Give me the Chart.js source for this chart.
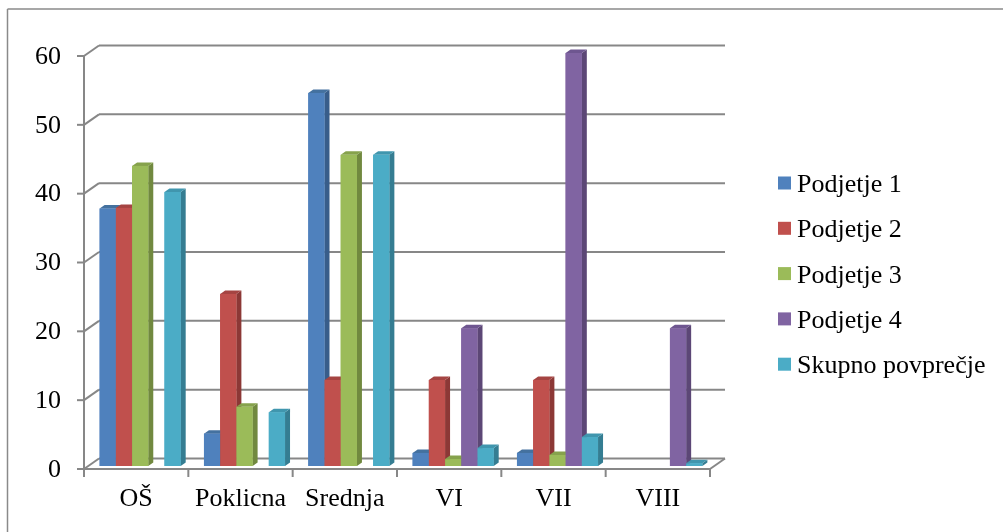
<!DOCTYPE html>
<html>
<head>
<meta charset="utf-8">
<script src="https://cdn.jsdelivr.net/npm/chart.js@4/dist/chart.umd.min.js"></script>
<style>
  html, body { margin: 0; padding: 0; background: #fff; }
  #wrap { width: 1003px; height: 532px; position: relative; }
</style>
</head>
<body>
<div id="wrap"><canvas id="chart" width="1003" height="532"></canvas></div>
<script>
// Delež po stopnji izobrazbe
const categories = ['OŠ', 'Poklicna', 'Srednja', 'VI', 'VII', 'VIII'];
const seriesNames = ['Podjetje 1', 'Podjetje 2', 'Podjetje 3', 'Podjetje 4', 'Skupno povprečje'];
const podjetje1 = [37.4, 4.7, 54.2, 1.9, 1.9, 0];
const podjetje2 = [37.5, 25.0, 12.5, 12.5, 12.5, 0];
const podjetje3 = [43.6, 8.6, 45.2, 1.0, 1.6, 0];
const podjetje4 = [0, 0, 0, 20.0, 60.0, 20.0];
const skupnoPovprecje = [39.8, 7.8, 45.2, 2.6, 4.2, 0.4];
const yTicks = [0, 10, 20, 30, 40, 50, 60];

const frontColors = ['#4F81BD', '#C0504D', '#9BBB59', '#8064A2', '#4BACC6'];
const sideColors  = ['#385D8A', '#8C3836', '#71893F', '#5C4776', '#357D92'];
const topColors   = ['#44719F', '#A54442', '#86A24C', '#6E5690', '#4096AE'];

const FONT = '"Liberation Serif", "Times New Roman", serif';
const LINE = '#878787';
// offsets of the front edge and back wall relative to the bar plane
const FRONT = { dx: -4, dy: 3 };
const BACK = { dx: 11, dy: -7.5 };
const DEPTH = { dx: 5, dy: -3.5 };

function seg(ctx, x1, y1, x2, y2) {
  ctx.beginPath(); ctx.moveTo(x1, y1); ctx.lineTo(x2, y2); ctx.stroke();
}
function poly(ctx, pts, color) {
  ctx.beginPath();
  ctx.moveTo(pts[0][0], pts[0][1]);
  for (let i = 1; i < pts.length; i++) ctx.lineTo(pts[i][0], pts[i][1]);
  ctx.closePath();
  ctx.fillStyle = color;
  ctx.fill();
}

const frame3d = {
  id: 'frame3d',
  beforeDraw(chart) {
    const ctx = chart.ctx;
    ctx.save();
    ctx.fillStyle = '#fff';
    ctx.fillRect(0, 0, chart.width, chart.height);
    ctx.strokeStyle = '#8a8a8a';
    ctx.lineWidth = 1.5;
    seg(ctx, 7.5, 9, chart.width, 9);
    seg(ctx, 7.5, 9, 7.5, chart.height);
    ctx.restore();
  },
  beforeDatasetsDraw(chart) {
    const { ctx, chartArea: { left, right }, scales: { x, y } } = chart;
    ctx.save();
    ctx.strokeStyle = LINE;
    ctx.lineWidth = 2;
    yTicks.forEach(v => {
      const py = y.getPixelForValue(v);
      seg(ctx, left + BACK.dx, py + BACK.dy, right + BACK.dx, py + BACK.dy);
      seg(ctx, left + FRONT.dx, py + FRONT.dy, left + BACK.dx, py + BACK.dy);
      seg(ctx, left + FRONT.dx - 7, py + FRONT.dy, left + FRONT.dx, py + FRONT.dy);
    });
    const y0 = y.getPixelForValue(0);
    const yTop = y.getPixelForValue(yTicks[yTicks.length - 1]);
    seg(ctx, left + FRONT.dx, yTop + FRONT.dy, left + FRONT.dx, y0 + FRONT.dy);
    seg(ctx, left + FRONT.dx, y0 + FRONT.dy, right + FRONT.dx, y0 + FRONT.dy);
    seg(ctx, right + FRONT.dx, y0 + FRONT.dy, right + BACK.dx, y0 + BACK.dy);
    const catW = (right - left) / categories.length;
    for (let i = 0; i <= categories.length; i++) {
      const px = x.getPixelForValue(Math.min(i, categories.length - 1)) + (i < categories.length ? -catW / 2 : catW / 2);
      seg(ctx, px + FRONT.dx, y0 + FRONT.dy, px + FRONT.dx, y0 + FRONT.dy + 8);
    }
    ctx.restore();
  },
  afterDatasetsDraw(chart) {
    const ctx = chart.ctx;
    ctx.save();
    const sets = chart.data.datasets;
    for (let c = 0; c < categories.length; c++) {
      for (let d = 0; d < sets.length; d++) {
        const v = sets[d].data[c];
        if (!v) continue;
        const el = chart.getDatasetMeta(d).data[c];
        const { x: cx, y: top, base, width } = el.getProps(['x', 'y', 'base', 'width'], true);
        const l = cx - width / 2, r = cx + width / 2;
        poly(ctx, [[r, top], [r + DEPTH.dx, top + DEPTH.dy], [r + DEPTH.dx, base + DEPTH.dy], [r, base]], sideColors[d]);
        poly(ctx, [[l, top], [l + DEPTH.dx, top + DEPTH.dy], [r + DEPTH.dx, top + DEPTH.dy], [r, top]], topColors[d]);
        ctx.fillStyle = frontColors[d];
        ctx.fillRect(l, top, width, base - top);
      }
    }
    ctx.restore();
  },
  afterDraw(chart) {
    const ctx = chart.ctx;
    ctx.save();
    ctx.font = '26px ' + FONT;
    ctx.fillStyle = '#000';
    ctx.textBaseline = 'alphabetic';
    ctx.textAlign = 'left';
    chart.data.datasets.forEach((ds, i) => {
      const cy = 183 + i * 45.3;
      ctx.fillStyle = frontColors[i];
      ctx.fillRect(778, cy - 6.5, 13, 13);
      ctx.fillStyle = '#000';
      ctx.fillText(ds.label, 797, cy + 9);
    });
    ctx.restore();
  }
};

const values = [podjetje1, podjetje2, podjetje3, podjetje4, skupnoPovprecje];

new Chart(document.getElementById('chart'), {
  type: 'bar',
  data: {
    labels: categories,
    datasets: seriesNames.map((name, i) => ({
      label: name,
      data: values[i],
      backgroundColor: frontColors[i],
      borderWidth: 0,
      categoryPercentage: 0.777,
      barPercentage: 1
    }))
  },
  options: {
    responsive: false,
    devicePixelRatio: 1,
    animation: false,
    layout: { padding: { top: 53, right: 289, left: 0, bottom: 0 } },
    plugins: { legend: { display: false }, tooltip: { enabled: false } },
    scales: {
      x: {
        offset: true,
        grid: { display: false, drawTicks: false },
        border: { display: false },
        ticks: {
          font: { family: FONT, size: 26 },
          color: '#000',
          padding: 18,
          labelOffset: -4,
          maxRotation: 0,
          autoSkip: false
        },
        afterFit(scale) { scale.height = 66; }
      },
      y: {
        min: 0,
        max: 60,
        grid: { display: false, drawTicks: false },
        border: { display: false },
        ticks: {
          stepSize: 10,
          font: { family: FONT, size: 26 },
          color: '#000',
          padding: 27,
          labelOffset: 4
        },
        afterFit(scale) { scale.width = 88; }
      }
    }
  },
  plugins: [frame3d]
});
</script>
</body>
</html>
